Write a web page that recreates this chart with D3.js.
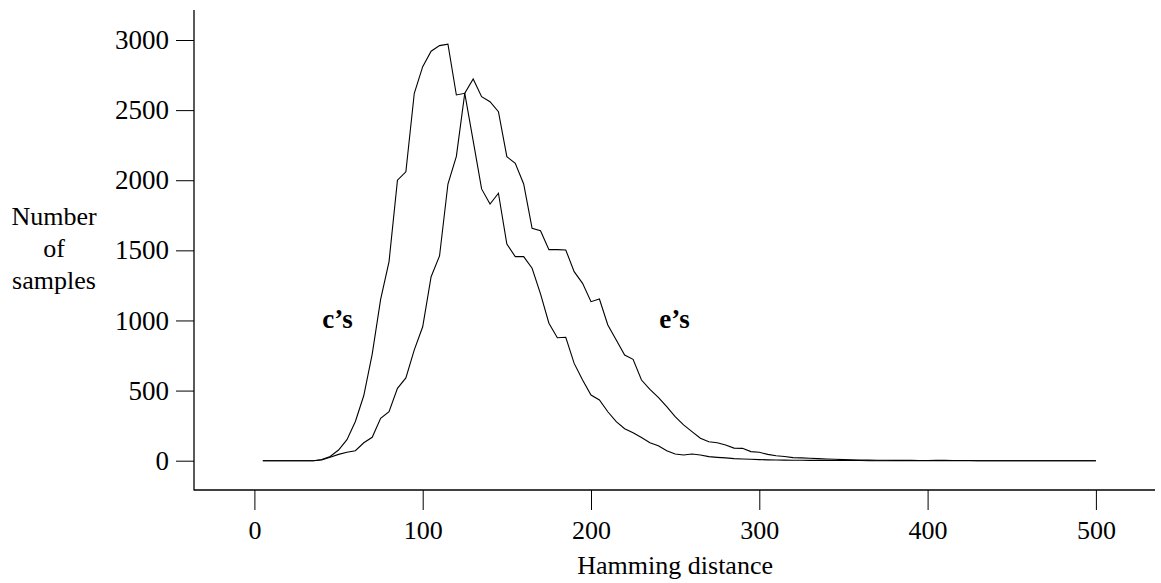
<!DOCTYPE html>
<html>
<head>
<meta charset="utf-8">
<script src="https://cdn.jsdelivr.net/npm/d3@7"></script>
<style>
  html, body { margin: 0; padding: 0; background: #fff; }
  svg { display: block; }
  text { font-family: "Liberation Serif", "Times New Roman", serif; fill: #000; }
</style>
</head>
<body>
<svg id="chart" width="1161" height="583"></svg>
<script>
// Hamming distance bins (5 .. 500 step 5)
const distances = [5,10,15,20,25,30,35,40,45,50,55,60,65,70,75,80,85,90,95,100,
  105,110,115,120,125,130,135,140,145,150,155,160,165,170,175,180,185,190,195,200,
  205,210,215,220,225,230,235,240,245,250,255,260,265,270,275,280,285,290,295,300,
  305,310,315,320,325,330,335,340,345,350,355,360,365,370,375,380,385,390,395,400,
  405,410,415,420,425,430,435,440,445,450,455,460,465,470,475,480,485,490,495,500];

const cSeries = [0,0,0,0,0,0,0,8,30,76,150,280,465,760,1150,1420,2000,2060,2620,2810,
  2920,2960,2970,2608,2620,2280,1938,1830,1907,1545,1455,1455,1372,1190,980,877,880,694,575,468,
  433,349,278,228,200,165,128,106,71,48,41,48,41,29,24,20,15,12,10,8,
  6,5,4,3,3,2,2,2,1,1,1,1,0,0,0,0,0,0,0,0,
  0,0,0,0,0,0,0,0,0,0,0,0,0,0,0,0,0,0,0,0];

const eSeries = [0,0,0,0,0,0,0,5,24,45,60,71,128,167,302,349,516,590,790,955,
  1312,1460,1973,2170,2620,2722,2596,2560,2489,2168,2121,1973,1657,1640,1505,1505,1503,1348,1265,1134,
  1153,968,861,754,723,575,509,452,385,314,255,207,160,135,128,112,90,88,65,60,
  45,35,30,22,20,18,15,12,10,8,6,5,4,3,3,2,2,2,1,1,
  2,3,1,1,1,0,0,0,0,0,0,0,0,0,0,0,0,0,0,0];

const xTicks = [0,100,200,300,400,500];
const yTicks = [0,500,1000,1500,2000,2500,3000];
const curveLabels = [
  { text: "c\u2019s", d: 49.4, v: 946 },
  { text: "e\u2019s", d: 249.6, v: 946 }
];
const yTitleLines = ["Number", "of", "samples"];
const xTitle = "Hamming distance";

const svg = d3.select("#chart");
const x = d3.scaleLinear().domain([0, 500]).range([254.4, 1095.9]);
const y = d3.scaleLinear().domain([0, 3000]).range([460.7, 40]);

const FS = 26;

// frame lines
svg.append("line").attr("x1", 194).attr("x2", 194).attr("y1", 10).attr("y2", 490.5)
  .attr("stroke", "#000").attr("stroke-width", 1.3);
svg.append("line").attr("x1", 194).attr("x2", 1155).attr("y1", 490).attr("y2", 490)
  .attr("stroke", "#000").attr("stroke-width", 1.3);

// y axis
const yAxis = svg.append("g").attr("transform", "translate(194,0)")
  .call(d3.axisLeft(y).tickValues(yTicks).tickSize(18).tickPadding(7).tickFormat(d3.format("d")));
yAxis.select(".domain").remove();
yAxis.selectAll(".tick line").attr("stroke", "#000").attr("stroke-width", 1);
yAxis.selectAll(".tick text").attr("font-size", 27).attr("font-family", "Liberation Serif");

// x axis
const xAxis = svg.append("g").attr("transform", "translate(0,490)")
  .call(d3.axisBottom(x).tickValues(xTicks).tickSize(20).tickPadding(11).tickFormat(d3.format("d")));
xAxis.select(".domain").remove();
xAxis.selectAll(".tick line").attr("stroke", "#000").attr("stroke-width", 1);
xAxis.selectAll(".tick text").attr("font-size", FS).attr("font-family", "Liberation Serif");

// curves
const line = d3.line().x((d, i) => x(distances[i])).y(d => y(d));
svg.append("path").datum(cSeries).attr("d", line)
  .attr("fill", "none").attr("stroke", "#000").attr("stroke-width", 1.1);
svg.append("path").datum(eSeries).attr("d", line)
  .attr("fill", "none").attr("stroke", "#000").attr("stroke-width", 1.1);

// curve labels
svg.selectAll(".clabel").data(curveLabels).enter().append("text")
  .attr("class", "clabel")
  .attr("x", d => x(d.d)).attr("y", d => y(d.v))
  .attr("text-anchor", "middle")
  .attr("font-size", 27).attr("font-weight", "bold")
  .text(d => d.text);

// y title
svg.selectAll(".ytitle").data(yTitleLines).enter().append("text")
  .attr("class", "ytitle")
  .attr("x", 54).attr("y", (d, i) => 225 + i * 32)
  .attr("text-anchor", "middle")
  .attr("font-size", FS)
  .text(d => d);

// x title
svg.append("text").attr("x", x(250)).attr("y", 574)
  .attr("text-anchor", "middle").attr("font-size", FS).text(xTitle);
</script>
</body>
</html>
